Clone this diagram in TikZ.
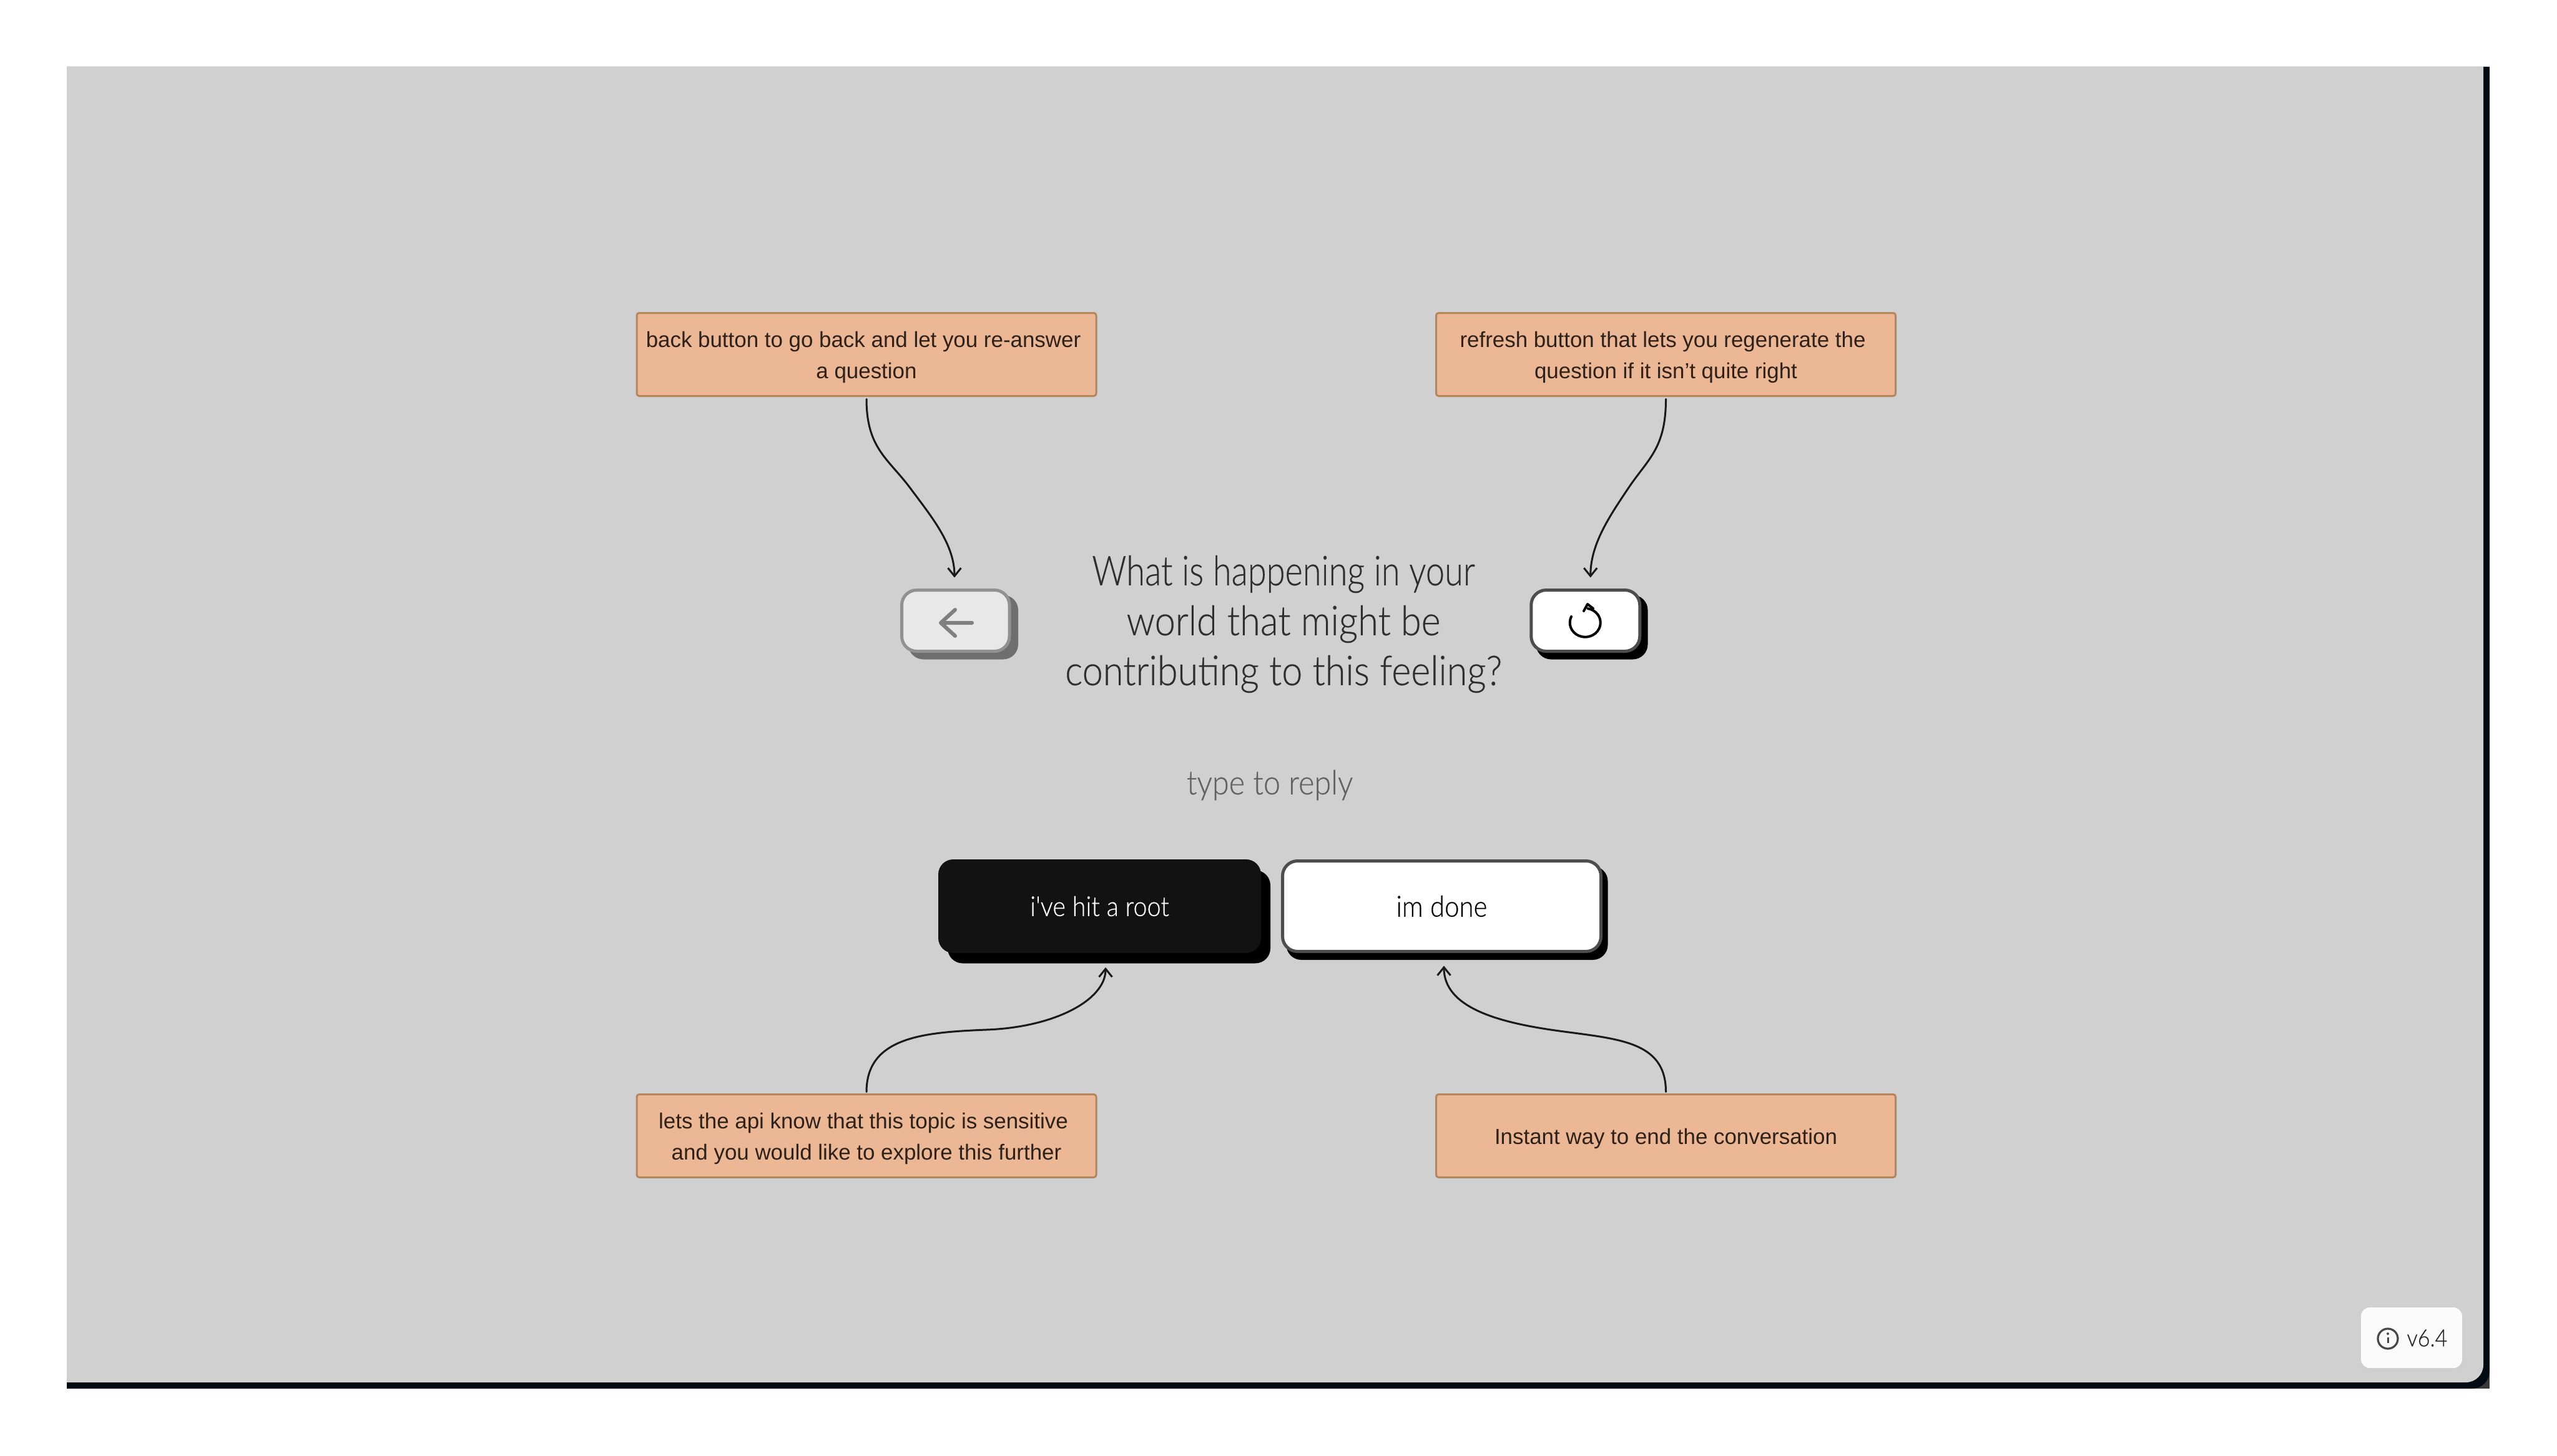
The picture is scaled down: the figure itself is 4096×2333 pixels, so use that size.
\documentclass[tikz,border=0pt]{standalone}
\usepackage{fontspec}
\setmainfont{Liberation Sans}
\newfontfamily\hand[FakeStretch=0.9,FakeBold=0.3]{Lato Light}
\newfontfamily\handtight[FakeStretch=0.82,FakeBold=0.3]{Lato Light}
\usetikzlibrary{arrows.meta,calc}
\definecolor{panel}{HTML}{D0D0D0}
\definecolor{edge}{HTML}{030A14}
\definecolor{notefill}{HTML}{EBB794}
\definecolor{noteline}{HTML}{B5855C}
\definecolor{notetext}{HTML}{2E2119}
\definecolor{handtext}{HTML}{2E2E2E}
\definecolor{btnline}{HTML}{4D4D4D}
\tikzset{
  x=0.5pt,y=-0.5pt,
  note/.style={draw=noteline,fill=notefill,line width=1.5pt,rounded corners=2pt,
    minimum width=368pt,minimum height=66.5pt,inner sep=0pt,outer sep=0pt},
  notelabel/.style={inner sep=0pt,outer sep=0pt,yshift=-2pt,
    text=notetext,align=center,font=\fontsize{17.45}{25}\selectfont},
  conn/.style={draw=black!90,line width=1.5pt,line cap=round,-{Straight Barb[length=6.5pt,width=10.5pt]}},
  face/.style={inner sep=0pt,outer sep=0pt,rounded corners=12pt,line width=2.5pt},
  shadowbox/.style={inner sep=0pt,outer sep=0pt,rounded corners=12pt},
  handlabel/.style={inner sep=0pt,outer sep=0pt,font=\hand,text=handtext,align=center},
  icon/.style={line width=3pt,line cap=round,line join=round}
}
\begin{document}
\begin{tikzpicture}
\useasboundingbox (0,0) rectangle (4096,2333);
\fill[white] (0,0) rectangle (4096,2333);
% panel
\fill[black!78] (3950,2190) rectangle (3988,2225);
\fill[edge] (107,107) -- (3988,107) [rounded corners=14pt] -- (3988,2225) [sharp corners] -- (107,2225) -- cycle;
\fill[panel] (107,107) -- (3978,107) [rounded corners=14pt] -- (3978,2215) [sharp corners] -- (107,2215) -- cycle;

% notes
\node[note,label={[notelabel]center:{back button to go back and let you re-answer\hspace*{5pt}\\a question}}] (n1) at (1388,568) {};
\node[note,label={[notelabel]center:{refresh button that lets you regenerate the\hspace*{5pt}\\question if it isn’t quite right}}] (n2) at (2668.5,568) {};
\node[note,label={[notelabel]center:{lets the api know that this topic is sensitive\hspace*{5pt}\\and you would like to explore this further}}] (n3) at (1388,1820) {};
\node[note,label={[notelabel]center:{Instant way to end the conversation}}] (n4) at (2668.5,1820) {};

% question
\node[handlabel,font=\hand\fontsize{33}{40}\selectfont] (q) at (2056,1000) {{\handtight What is happening in your}\\world that might be\\contributing to this feeling?};
\node[handlabel,font=\hand\fontsize{27}{32}\selectfont,text=black!62] (t) at (2034,1258) {type to reply};

% back button
\node[shadowbox,fill=black!57,minimum width=88pt,minimum height=51.5pt] (bs) at (1543,1005) {};
\node[face,draw=black!43,fill=black!9,minimum width=86.25pt,minimum height=49pt] (bk) at (1530.75,994.5) {};
\draw[icon,draw=black!50] (1557,998) -- (1507,998) (1530,977) -- (1507,998) -- (1530,1019);

% refresh button
\node[shadowbox,fill=black,minimum width=89.5pt,minimum height=51.5pt] (rs) at (2550,1005) {};
\node[face,draw=btnline,fill=white,minimum width=87pt,minimum height=49pt] (rf) at (2539.75,994.5) {};
\draw[icon,draw=black,line width=2pt] (2517,988) arc[start angle=155,end angle=440,x radius=12.25pt,y radius=11.5pt];
\draw[icon,draw=black,line width=2pt] (2537,979) -- (2543,968) -- (2552,975);

% reply buttons
\node[shadowbox,fill=black,minimum width=258.5pt,minimum height=74.5pt] (ys) at (1776.5,1469) {};
\node[face,fill=black!93,minimum width=258.5pt,minimum height=75pt,text=white,font=\hand\fontsize{22}{26}\selectfont] (yes) at (1761.5,1452) {i've hit a root};
\node[shadowbox,fill=black,minimum width=257.5pt,minimum height=75pt] (ws) at (2318,1463) {};
\node[face,draw=btnline,fill=white,minimum width=255pt,minimum height=72.5pt,text=black,font=\hand\fontsize{23.3}{28}\selectfont] (done) at (2309.5,1452) {im done};

% connectors
\coordinate (m1) at (1458,782);
\coordinate (m2) at (2608.5,782);
\coordinate (m3) at (1580,1650);
\coordinate (m4) at (2491,1651);
\draw[conn,shorten <=2.5pt,shorten >=10pt] (n1.south) .. controls +(0,84) and +(-35,-47) .. (m1) .. controls +(35,47) and +(0,-73) .. ([xshift=-0.9pt]bk.north);
\draw[conn,shorten <=2.5pt,shorten >=10pt] (n2.south) .. controls +(0,84) and +(31.5,-47) .. (m2) .. controls +(-31.5,47) and +(0,-73) .. ([xshift=4pt]rf.north);
\draw[conn,shorten <=2pt,shorten >=11.5pt] (n3.north) .. controls +(0,-92) and +(-100,4) .. (m3) .. controls +(110,-4) and +(0,75) .. ([xshift=4.75pt]yes.south);
\draw[conn,shorten <=2pt,shorten >=11.5pt] (n4.north) .. controls +(0,-87) and +(99,14) .. (m4) .. controls +(-91,-13) and +(0,90) .. ([xshift=1.75pt]done.south);

% version badge
\node[inner sep=0pt,outer sep=0pt,fill=black!19,rounded corners=8pt,minimum width=84pt,minimum height=52pt] (vs) at (3863,2146) {};
\node[inner sep=0pt,outer sep=0pt,fill=black!2,rounded corners=7pt,minimum width=81pt,minimum height=48.5pt] (vb) at (3863,2143.5) {};
\draw[line width=1.6pt,draw=black!72] (3825,2145) circle[radius=8pt];
\fill[black!72] (3825,2137) circle[radius=1pt];
\draw[line width=1.5pt,draw=black!72] (3825,2143) -- (3825,2152);
\node[inner sep=0pt,outer sep=0pt,font=\hand\fontsize{19}{22}\selectfont,text=black!85] (ver) at (3888,2144) {v6.4};
\end{tikzpicture}
\end{document}
